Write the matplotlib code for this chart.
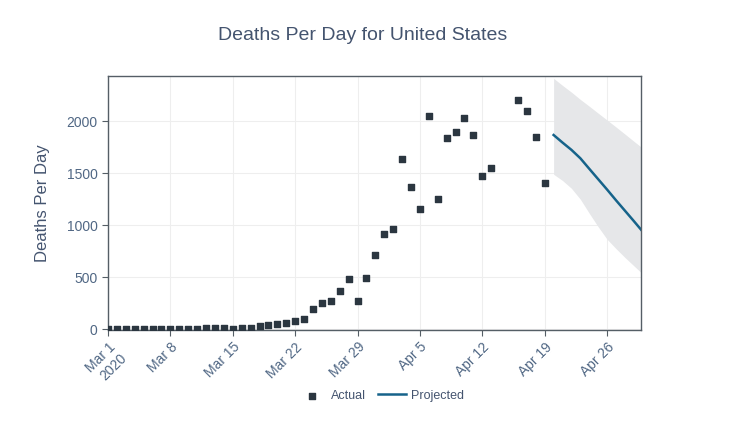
import numpy as np
import pandas as pd
import matplotlib
matplotlib.use("Agg")
import matplotlib.pyplot as plt
import matplotlib.dates as mdates

plt.rcParams['font.family'] = ['Liberation Sans', 'DejaVu Sans']

# observed deaths per day (Apr 14-15 missing in the source)
actual_dates = list(pd.date_range("2020-03-01", "2020-04-13")) + list(pd.date_range("2020-04-16", "2020-04-19"))
actual_vals = [1, 2, 1, 2, 1, 3, 2, 4, 4, 4, 6, 7, 8, 8, 5,
               8, 14, 27, 37, 46, 62, 78, 100, 195, 250, 275, 368, 484, 269,
               490, 718, 917, 961, 1635, 1368, 1154, 2054, 1250, 1836, 1900,
               2032, 1865, 1477, 1551,
               2208, 2096, 1846, 1404]

proj_dates = pd.date_range("2020-04-20", "2020-04-30")
proj_vals = [1868, 1795, 1725, 1644, 1543, 1443, 1343, 1240, 1140, 1040, 938]
proj_upper = [2413, 2345, 2280, 2210, 2145, 2078, 2012, 1945, 1877, 1808, 1740]
proj_lower = [1490, 1430, 1355, 1250, 1115, 985, 865, 775, 690, 610, 530]

title_color = '#44546f'
tick_color = '#506784'

fig = plt.figure(figsize=(7.5, 4.22), dpi=100)
ax = fig.add_axes([0.144, 0.219, 0.711, 0.6015])

ax.fill_between(proj_dates, proj_lower, proj_upper, color='#e6e7e9', lw=0, zorder=1)
ax.scatter(actual_dates, actual_vals, marker='s', s=22, color='#2b3640', label='Actual', zorder=3)
ax.plot(proj_dates, proj_vals, color='#16638a', lw=1.8, label='Projected', zorder=2)

ax.set_xlim(pd.Timestamp("2020-03-01"), pd.Timestamp("2020-04-29 20:00"))
ax.set_ylim(-4, 2438)
ax.set_yticks([0, 500, 1000, 1500, 2000])

xt = pd.date_range("2020-03-01", "2020-04-26", freq="7D")
ax.set_xticks(xt)
labels = [d.strftime("%b ") + str(d.day) for d in xt]
labels[0] = labels[0] + "\n2020"
ax.set_xticklabels(labels, rotation=45, ha='right', rotation_mode='anchor')

ax.grid(True, color='#eeeeee', lw=0.8, zorder=0)
ax.set_axisbelow(True)
for s in ax.spines.values():
    s.set_color('#555e66')
    s.set_linewidth(1.0)
ax.tick_params(colors='#555e66', labelcolor=tick_color, labelsize=10, length=4, width=0.8)

ax.set_ylabel("Deaths Per Day", fontsize=12, color=title_color, labelpad=12)
fig.text(0.483, 0.917, "Deaths Per Day for United States", ha='center', va='center',
         fontsize=14, color=title_color)

fig.legend(loc='center', bbox_to_anchor=(0.508, 0.062), ncol=2, frameon=False,
           fontsize=9, labelcolor=title_color, handlelength=2.3, columnspacing=0.9,
           handletextpad=0.4, markerscale=0.8)

fig.savefig("out.png", dpi=100, facecolor='white')
